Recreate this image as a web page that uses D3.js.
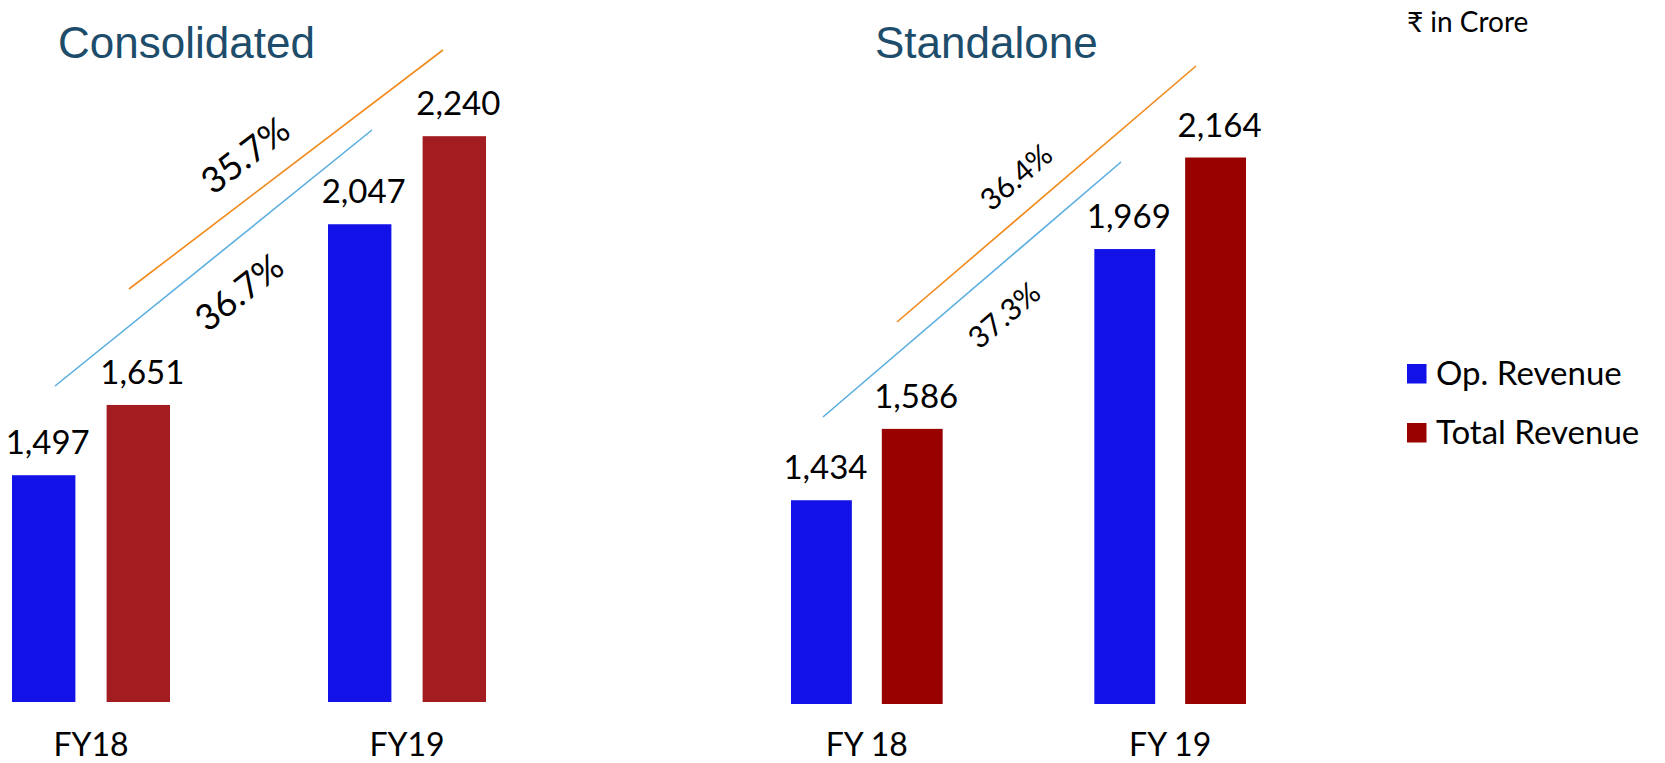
<!DOCTYPE html>
<html><head><meta charset="utf-8">
<script src="https://cdn.jsdelivr.net/npm/d3@7"></script>
<style>
html,body{margin:0;padding:0;background:#fff;}
svg{display:block;}
</style></head>
<body>
<svg id="chart" width="1665" height="763"></svg>
<script>
// ---------- data ----------
const seriesNames = ["Op. Revenue", "Total Revenue"];
const consCategories = ["FY18", "FY19"];
const consOpRevenue = [1497, 2047];
const consTotalRevenue = [1651, 2240];
const consGrowth = ["36.7%", "35.7%"]; // op, total
const stdCategories = ["FY 18", "FY 19"];
const stdOpRevenue = [1434, 1969];
const stdTotalRevenue = [1586, 2164];
const stdGrowth = ["37.3%", "36.4%"]; // op, total
const unitLabel = "₹ in Crore";

// ---------- layout / style ----------
const FONT = "Lato, 'Open Sans', sans-serif";
const TITLE_FONT = "'Liberation Sans', Arial, sans-serif";
const opColor = "#1111e8";
const growthColors = ["#5aaee0", "#f08a1c"];

const panels = [
  {
    title: "Consolidated", titleX: 58,
    cats: consCategories, op: consOpRevenue, total: consTotalRevenue,
    growth: consGrowth, totalColor: "#a31c20",
    x0: 12, x1: 486, base: 702, top: 702 - 1400 * 0.4563,
    lines: [[55, 386, 372, 130], [129, 289, 443, 50]],
    labels: [[239, 292, -38], [245, 155, -37.4]], pctSize: 36
  },
  {
    title: "Standalone", titleX: 875,
    cats: stdCategories, op: stdOpRevenue, total: stdTotalRevenue,
    growth: stdGrowth, totalColor: "#990000",
    x0: 791, x1: 1246, base: 704, top: 704 - 1400 * 0.4695,
    lines: [[823, 417, 1121, 162], [897, 322, 1196, 66]],
    labels: [[1004, 315, -40.5], [1016, 177, -40.5]], pctSize: 30
  }
];

const svg = d3.select("#chart");

panels.forEach(p => {
  const g = svg.append("g");
  const rows = p.cats.map((c, i) => ({cat: c, values: [p.op[i], p.total[i]]}));

  const x = d3.scaleBand().domain(p.cats).range([p.x0, p.x1]).paddingInner(0.5).paddingOuter(0);
  const xs = d3.scaleBand().domain(seriesNames).range([0, x.bandwidth()]).paddingInner(0.33).paddingOuter(0);
  const y = d3.scaleLinear().domain([1000, 2400]).range([p.base, p.top]);
  const color = d3.scaleOrdinal().domain(seriesNames).range([opColor, p.totalColor]);

  // title
  g.append("text").attr("x", p.titleX).attr("y", 58)
    .attr("font-family", TITLE_FONT).attr("font-size", 44)
    .attr("fill", "#1d4d6b").text(p.title);

  // bars
  const grp = g.selectAll("g.cat").data(rows).join("g")
    .attr("transform", d => `translate(${x(d.cat)},0)`);
  grp.selectAll("rect").data(d => d.values.map((v, k) => ({s: seriesNames[k], v})))
    .join("rect")
    .attr("x", d => xs(d.s)).attr("width", xs.bandwidth())
    .attr("y", d => y(d.v)).attr("height", d => y.range()[0] - y(d.v))
    .attr("fill", d => color(d.s));
  grp.selectAll("text.val").data(d => d.values.map((v, k) => ({s: seriesNames[k], v})))
    .join("text").attr("class", "val")
    .attr("x", d => xs(d.s) + xs.bandwidth() / 2 + 4)
    .attr("y", d => y(d.v) - 21)
    .attr("text-anchor", "middle")
    .attr("font-family", FONT).attr("font-size", 33).attr("fill", "#000")
    .text(d => d3.format(",")(d.v));

  // category axis labels
  const axis = d3.axisBottom(x).tickSize(0).tickPadding(0);
  const ax = g.append("g").attr("transform", `translate(0,756)`).call(axis);
  ax.select(".domain").remove();
  ax.selectAll("text").attr("font-family", FONT).attr("font-size", 32)
    .attr("fill", "#000").attr("dy", 0);

  // growth lines and labels
  p.lines.forEach((l, i) => {
    g.append("line").attr("x1", l[0]).attr("y1", l[1]).attr("x2", l[2]).attr("y2", l[3])
      .attr("stroke", growthColors[i]).attr("stroke-width", 1.6);
  });
  p.labels.forEach((l, i) => {
    g.append("text")
      .attr("transform", `translate(${l[0]},${l[1]}) rotate(${l[2]})`)
      .attr("text-anchor", "middle").attr("dy", "0.36em")
      .attr("font-family", FONT).attr("font-size", p.pctSize).attr("fill", "#000")
      .text(p.growth[i]);
  });
});

// unit label
svg.append("text").attr("x", 1407).attr("y", 32)
  .attr("font-family", FONT).attr("font-size", 28).attr("fill", "#000")
  .text(unitLabel);

// legend
const legendColors = [opColor, "#990000"];
const lg = svg.append("g").selectAll("g").data(seriesNames).join("g")
  .attr("transform", (d, i) => `translate(1407,${364 + i * 59})`);
lg.append("rect").attr("width", 19.5).attr("height", 19.5).attr("fill", (d, i) => legendColors[i]);
lg.append("text").attr("x", 29).attr("y", 21)
  .attr("font-family", FONT).attr("font-size", 33).attr("fill", "#000").text(d => d);
</script>
</body></html>
